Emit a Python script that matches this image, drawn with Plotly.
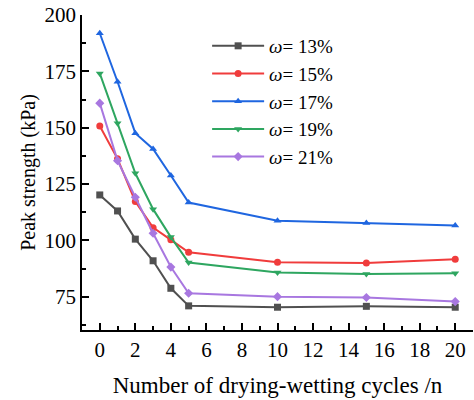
import plotly.graph_objects as go

cycles = [0, 1, 2, 3, 4, 5, 10, 15, 20]
labels = ["13%", "15%", "17%", "19%", "21%"]
w13 = [120.2, 113.1, 100.6, 91.0, 78.8, 71.0, 70.4, 70.8, 70.4]
w15 = [150.8, 136.2, 117.3, 105.7, 100.3, 94.8, 90.4, 90.0, 91.7]
w17 = [191.9, 170.4, 147.6, 140.6, 128.8, 116.8, 108.8, 107.7, 106.6]
w19 = [174.1, 152.0, 129.8, 113.9, 101.5, 90.2, 85.8, 85.1, 85.5]
w21 = [160.9, 135.4, 119.2, 103.2, 88.2, 76.6, 75.1, 74.7, 72.9]
series = [w13, w15, w17, w19, w21]
colors = ["#505050", "#f03c3c", "#1f66e0", "#2ea660", "#a877e0"]
symbols = ["square", "circle", "triangle-up", "triangle-down", "diamond"]

yticks = [75, 100, 125, 150, 175, 200]
xticks = [0, 2, 4, 6, 8, 10, 12, 14, 16, 18, 20]

FONT = "Liberation Serif"

fig = go.Figure()
for lab, ys, c, s in zip(labels, series, colors, symbols):
    fig.add_trace(go.Scatter(
        x=cycles, y=ys, mode="lines+markers",
        name="<i>ω</i>= " + lab,
        line=dict(color=c, width=2),
        marker=dict(color=c, symbol=s, size=7),
    ))

fig.update_layout(
    width=474, height=400,
    margin=dict(l=82, r=1, t=15, b=70),
    paper_bgcolor="white", plot_bgcolor="white",
    font=dict(family=FONT, size=20, color="black"),
    showlegend=True,
    legend=dict(x=0.32, y=0.962, xanchor="left", yanchor="top",
                bgcolor="rgba(0,0,0,0)", itemwidth=52,
                font=dict(family=FONT, size=19), tracegroupgap=0),
    xaxis=dict(range=[-1, 21], tickvals=xticks, showline=True, linecolor="black",
               linewidth=1.5, ticks="inside", ticklen=7, tickwidth=1.5,
               tickcolor="black", showgrid=False, zeroline=False, mirror=False,
               minor=dict(dtick=1, tick0=0, ticks="inside", ticklen=4, tickwidth=1.5, tickcolor="black"),
               title=dict(text="Number of drying-wetting cycles /n", standoff=16,
                          font=dict(family=FONT, size=23)),
               tickfont=dict(family=FONT, size=21)),
    yaxis=dict(range=[60.3, 200], tickvals=yticks, showline=True, linecolor="black",
               linewidth=1.5, ticks="inside", ticklen=7, tickwidth=1.5,
               tickcolor="black", showgrid=False, zeroline=False, mirror=False,
               minor=dict(dtick=12.5, tick0=0, ticks="inside", ticklen=4, tickwidth=1.5, tickcolor="black"),
               title=dict(text="Peak strength (kPa)", standoff=4,
                          font=dict(family=FONT, size=20)),
               tickfont=dict(family=FONT, size=21)),
)

fig.write_html("out.html")
